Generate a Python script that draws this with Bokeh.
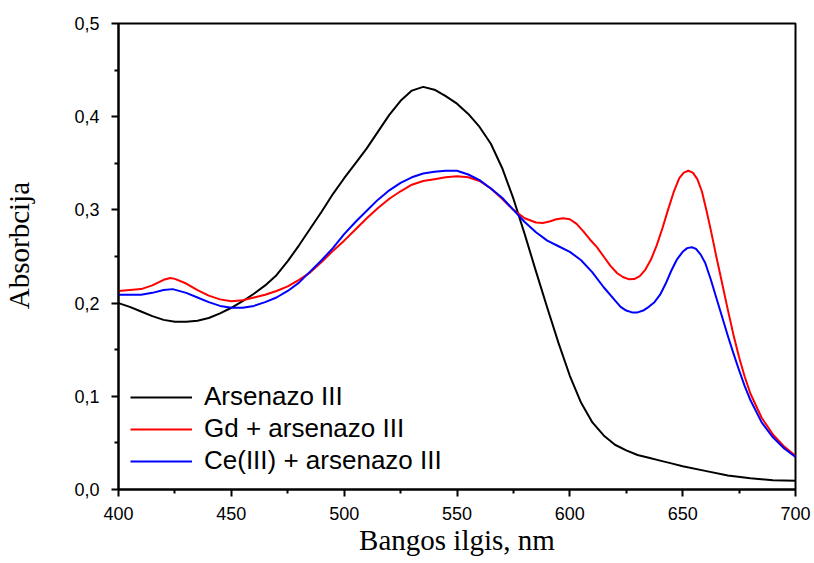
from bokeh.plotting import figure
from bokeh.models import FixedTicker, CustomJSTickFormatter, Legend, LegendItem, Range1d
from bokeh.embed import file_html
from bokeh.resources import INLINE

# Arsenazo III
wl_ars = [400, 405, 410, 415, 420, 425, 430, 435, 440, 445, 450, 455, 460, 465, 470, 475,
          480, 485, 490, 495, 500, 505, 510, 515, 520, 525, 530, 535, 540, 545, 550, 555,
          560, 565, 570, 575, 580, 585, 590, 595, 600, 605, 610, 615, 620, 625, 630, 635,
          640, 645, 650, 660, 670, 680, 690, 700]
abs_ars = [0.200, 0.196, 0.191, 0.186, 0.182, 0.180, 0.180, 0.181, 0.184, 0.189, 0.195, 0.202,
           0.210, 0.219, 0.230, 0.245, 0.262, 0.280, 0.298, 0.317, 0.334, 0.350, 0.366, 0.384,
           0.402, 0.417, 0.428, 0.432, 0.429, 0.422, 0.414, 0.403, 0.389, 0.371, 0.345, 0.312,
           0.274, 0.234, 0.195, 0.157, 0.122, 0.093, 0.072, 0.058, 0.048, 0.042, 0.037, 0.034,
           0.031, 0.028, 0.025, 0.020, 0.015, 0.012, 0.010, 0.0095]

# Gd + arsenazo III
wl_gd = [400, 405, 410, 415, 420, 423, 425, 430, 435, 440, 445, 450, 455, 460, 465, 470, 475,
         480, 485, 490, 495, 500, 505, 510, 515, 520, 525, 530, 535, 540, 545, 550, 555, 560,
         565, 570, 575, 580, 585, 588, 591, 594, 597, 600, 603, 606, 609, 612, 615, 618, 621,
         623.5, 626, 628.5, 631, 633.5, 636, 638.5, 641, 643.5, 646, 648.5, 650.5, 652.5, 654.5,
         656.5, 658.5, 660.5, 662.5, 665, 667.5, 670, 672.5, 675, 677.5, 680, 685, 690, 695, 700]
abs_gd = [0.213, 0.214, 0.215, 0.219, 0.225, 0.227, 0.226, 0.221, 0.214, 0.208, 0.204, 0.202,
          0.203, 0.206, 0.209, 0.213, 0.218, 0.225, 0.233, 0.244, 0.256, 0.267, 0.279, 0.291,
          0.302, 0.312, 0.320, 0.327, 0.331, 0.333, 0.335, 0.336, 0.335, 0.331, 0.323, 0.312,
          0.300, 0.291, 0.2865, 0.286, 0.2875, 0.290, 0.291, 0.290, 0.285, 0.277, 0.268, 0.260,
          0.250, 0.240, 0.232, 0.228, 0.2257, 0.2258, 0.229, 0.236, 0.247, 0.262, 0.280, 0.300,
          0.319, 0.334, 0.340, 0.342, 0.340, 0.333, 0.320, 0.300, 0.278, 0.249, 0.221, 0.193,
          0.166, 0.142, 0.121, 0.103, 0.077, 0.059, 0.046, 0.036]

# Ce(III) + arsenazo III
wl_ce = [400, 405, 410, 415, 420, 424, 430, 435, 440, 445, 450, 455, 460, 465, 470, 475, 480,
         485, 490, 495, 500, 505, 510, 515, 520, 525, 530, 535, 540, 545, 550, 555, 560, 565,
         570, 575, 580, 585, 590, 595, 600, 605, 610, 615, 620, 622.5, 625, 627.5, 630, 632.5,
         635, 637.5, 640, 642.5, 645, 647.5, 650, 652, 654, 656, 658, 660, 662.5, 665, 667.5,
         670, 672.5, 675, 677.5, 680, 685, 690, 695, 700]
abs_ce = [0.209, 0.209, 0.209, 0.211, 0.214, 0.215, 0.211, 0.206, 0.201, 0.197, 0.195, 0.195,
          0.197, 0.201, 0.206, 0.213, 0.222, 0.234, 0.246, 0.259, 0.274, 0.287, 0.299, 0.311,
          0.321, 0.329, 0.335, 0.339, 0.341, 0.342, 0.342, 0.338, 0.332, 0.323, 0.313, 0.300,
          0.287, 0.276, 0.267, 0.261, 0.255, 0.246, 0.233, 0.217, 0.203, 0.196, 0.192, 0.190,
          0.190, 0.192, 0.196, 0.201, 0.209, 0.221, 0.235, 0.247, 0.255, 0.259, 0.260, 0.258,
          0.252, 0.243, 0.225, 0.205, 0.185, 0.165, 0.146, 0.128, 0.111, 0.096, 0.072, 0.056,
          0.044, 0.035]

labels = ["Arsenazo III", "Gd + arsenazo III", "Ce(III) + arsenazo III"]
x_title = "Bangos ilgis, nm"
y_title = "Absorbcija"
x_major = [400, 450, 500, 550, 600, 650, 700]
x_minor = [425, 475, 525, 575, 625, 675]
y_major = [0.0, 0.1, 0.2, 0.3, 0.4, 0.5]
y_minor = [0.05, 0.15, 0.25, 0.35, 0.45]

p = figure(width=814, height=563, output_backend="svg", toolbar_location=None,
           x_range=Range1d(400, 700), y_range=Range1d(0, 0.5),
           min_border_left=118, min_border_right=19, min_border_top=23, min_border_bottom=74)
p.background_fill_color = "white"
p.border_fill_color = "white"
p.outline_line_color = "black"
p.outline_line_width = 2
p.xgrid.visible = False
p.ygrid.visible = False

r1 = p.line(wl_ars, abs_ars, line_color="black", line_width=2, line_join="round")
r2 = p.line(wl_gd, abs_gd, line_color="#ff0000", line_width=2, line_join="round")
r3 = p.line(wl_ce, abs_ce, line_color="#0000ff", line_width=2, line_join="round")

for ax in (p.xaxis[0], p.yaxis[0]):
    ax.axis_line_width = 2
    ax.axis_line_color = "black"
    ax.major_tick_line_width = 2
    ax.minor_tick_line_width = 2
    ax.major_tick_out = 7
    ax.major_tick_in = 0
    ax.minor_tick_out = 4
    ax.minor_tick_in = 0
    ax.major_label_text_font = "Liberation Sans"
    ax.major_label_text_font_size = "18px"
    ax.major_label_text_color = "black"
    ax.axis_label_text_font = "Liberation Serif"
    ax.axis_label_text_font_size = "29px"
    ax.axis_label_text_font_style = "normal"
    ax.axis_label_text_color = "black"

p.xaxis.ticker = FixedTicker(ticks=x_major, minor_ticks=x_minor)
p.yaxis.ticker = FixedTicker(ticks=y_major, minor_ticks=y_minor)
p.yaxis.formatter = CustomJSTickFormatter(code="return tick.toFixed(1).replace('.', ',');")
p.xaxis.major_label_standoff = 10
p.yaxis.major_label_standoff = 12
p.xaxis.axis_label = x_title
p.yaxis.axis_label = "\u00a0\u00a0\u00a0" + y_title
p.xaxis.axis_label_standoff = 1
p.yaxis.axis_label_standoff = 36

legend = Legend(items=[LegendItem(label=labels[0], renderers=[r1]),
                       LegendItem(label=labels[1], renderers=[r2]),
                       LegendItem(label=labels[2], renderers=[r3])],
                location=(12, 13), background_fill_alpha=0, border_line_alpha=0,
                padding=0, margin=0, spacing=1, glyph_width=62, glyph_height=24,
                label_standoff=12, label_text_font="Liberation Sans",
                label_text_font_size="26px", label_text_color="black")
p.add_layout(legend)

open("out.html", "w").write(file_html(p, INLINE))
